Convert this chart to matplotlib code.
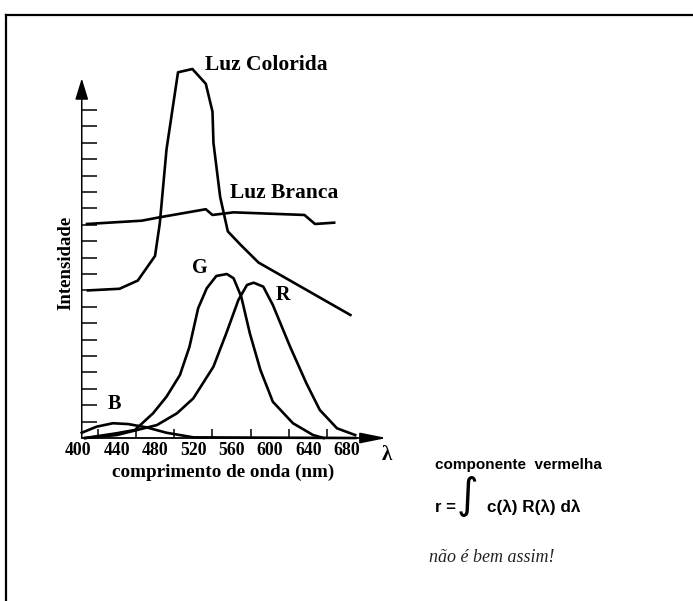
import matplotlib
matplotlib.use('Agg')
import matplotlib.pyplot as plt
from matplotlib.lines import Line2D

# curves: wavelength (nm) and intensity (tick units)
colorida_nm = [410, 443, 462, 480, 485, 492, 504, 519, 533, 540, 541, 548, 556, 569, 588, 684]
colorida_v = [9.0, 9.1, 9.6, 11.1, 13.1, 17.6, 22.3, 22.5, 21.6, 19.9, 18.0, 14.7, 12.6, 11.8, 10.7, 7.5]

branca_nm = [409, 466, 485, 533, 540, 562, 636, 647, 667]
branca_v = [13.05, 13.25, 13.46, 13.95, 13.6, 13.76, 13.6, 13.05, 13.13]

g_nm = [407, 440, 459, 478, 492, 506, 516, 525, 534, 544, 555, 562, 570, 579, 590, 603, 624, 645, 656]
g_v = [0.0, 0.29, 0.49, 1.51, 2.52, 3.84, 5.57, 7.91, 9.13, 9.88, 10.0, 9.74, 8.62, 6.38, 4.15, 2.21, 0.9, 0.18, 0.0]

r_nm = [407, 440, 482, 503, 520, 541, 555, 567, 576, 583, 593, 603, 621, 638, 652, 670, 689]
r_v = [0.0, 0.18, 0.79, 1.51, 2.42, 4.35, 6.48, 8.41, 9.33, 9.47, 9.23, 8.11, 5.57, 3.34, 1.71, 0.59, 0.18]

b_nm = [403.5, 419, 436, 452, 471, 492, 520, 689]
b_v = [0.32, 0.69, 0.9, 0.85, 0.65, 0.32, 0.04, 0.0]

x_labels = [400, 440, 480, 520, 560, 600, 640, 680]
x_minor = [420, 440, 460, 480, 500, 520, 540, 560, 580, 600, 620, 640, 660, 680]
y_ticks = list(range(1, 21))

serif = 'Liberation Serif'
sans = 'Liberation Sans'

fig = plt.figure(figsize=(6.93, 6.01), dpi=100)
ax = fig.add_axes([0.10621, 0.27121, 0.45613, 0.64126])
ax.set_xlim(395, 725)
ax.set_ylim(0, 23.5)
for s in ax.spines.values():
    s.set_color('none')
ax.spines['left'].set_position(('data', 403.5))

for nm, v in [(colorida_nm, colorida_v), (branca_nm, branca_v), (g_nm, g_v), (r_nm, r_v), (b_nm, b_v)]:
    ax.plot(nm, v, color='black', lw=1.9, clip_on=False)

# axes with arrow heads
ax.annotate('', xy=(403.5, 21.93), xytext=(403.5, 0),
            arrowprops=dict(arrowstyle='-|>,head_length=1.3,head_width=0.4', mutation_scale=10,
                            color='black', lw=1.1, shrinkA=0, shrinkB=0))
ax.annotate('', xy=(722, 0), xytext=(403.5, 0),
            arrowprops=dict(arrowstyle='-|>,head_length=1.6,head_width=0.32', mutation_scale=10,
                            color='black', lw=1.3, shrinkA=0, shrinkB=0))

ax.set_yticks(y_ticks)
ax.set_yticklabels([])
ax.tick_params(axis='y', direction='in', length=10.8, width=1.1, color='black')
ax.set_xticks(x_labels)
ax.set_xticklabels([str(v) for v in x_labels], fontfamily=serif, fontweight='bold', fontsize=12.8)
ax.set_xticks(x_minor, minor=True)
ax.tick_params(axis='x', which='major', direction='in', length=0, pad=2.7)
ax.tick_params(axis='x', which='minor', direction='in', length=6.5, width=1.1, color='black')

ax.text(532, 22.74, 'Luz Colorida', fontfamily=serif, fontweight='bold', fontsize=15.5, va='center')
ax.text(558, 14.95, 'Luz Branca', fontfamily=serif, fontweight='bold', fontsize=15.5, va='center')
ax.text(527, 10.36, 'G', fontfamily=serif, fontweight='bold', fontsize=14.5, ha='center', va='center')
ax.text(614, 8.72, 'R', fontfamily=serif, fontweight='bold', fontsize=14.5, ha='center', va='center')
ax.text(438, 2.07, 'B', fontfamily=serif, fontweight='bold', fontsize=14.5, ha='center', va='center')


def fx(px):
    return px / 693


def fy(py):
    return 1 - py / 601


fig.text(fx(387), fy(455), 'λ', fontfamily=serif, fontweight='bold', fontsize=15, ha='center', va='center')
fig.text(fx(223.4), fy(472), 'comprimento de onda (nm)', fontfamily=serif, fontweight='bold',
         fontsize=13.8, ha='center', va='center')
fig.text(fx(66), fy(263), 'Intensidade', fontfamily=serif, fontweight='bold', fontsize=13.5,
         rotation=90, ha='center', va='center')

fig.text(fx(435), fy(465), 'componente  vermelha', fontfamily=sans, fontweight='bold', fontsize=11,
         ha='left', va='center')
fig.text(fx(435), fy(507), 'r =', fontfamily=sans, fontweight='bold', fontsize=12, ha='left', va='center')
fig.text(fx(467), fy(496), '∫', family=['DejaVu Sans'], fontsize=30, ha='center', va='center')
fig.text(fx(487), fy(507), 'c(λ) R(λ) dλ', fontfamily=sans, fontweight='bold', fontsize=12.3,
         ha='left', va='center')
fig.text(fx(429), fy(558), 'não é bem assim!', fontfamily=serif, fontstyle='italic', fontsize=13,
         color='#222222', ha='left', va='center')

# frame lines on top and left
fig.add_artist(Line2D([fx(6), 1], [fy(15), fy(15)], transform=fig.transFigure, color='black', lw=1.6))
fig.add_artist(Line2D([fx(6), fx(6)], [fy(15), 0], transform=fig.transFigure, color='black', lw=1.6))

fig.savefig('out.png', dpi=100)
